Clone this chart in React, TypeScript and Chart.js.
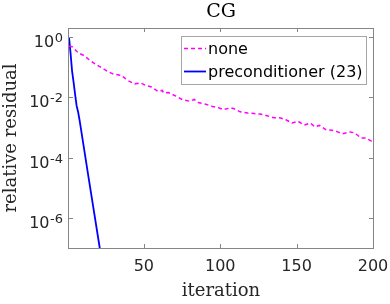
import React, { useEffect, useRef } from 'react';
import { Chart, registerables } from 'chart.js';

Chart.register(...registerables);

const chartTitle = 'CG';
const xLabel = 'iteration';
const yLabel = 'relative residual';
const xTicks = [50, 100, 150, 200];
const yTicks = [1, 1e-2, 1e-4, 1e-6];
const yTickExponents = ['0', '-2', '-4', '-6'];

const noneLabel = 'none';
const noneIter = [1, 3, 7, 11, 14, 18, 22, 26, 30, 35, 40, 44, 48, 51, 55, 59, 62, 63, 66, 71, 75, 80, 83, 86, 90, 95, 99, 102, 107, 109, 113, 118, 122, 126, 130, 135, 139, 143, 147, 151, 155, 159, 162, 165, 169, 173, 176, 180, 185, 188, 192, 195, 199, 200];
const noneResidual = [0.5, 0.48, 0.3, 0.24, 0.18, 0.13, 0.098, 0.074, 0.059, 0.054, 0.035, 0.028, 0.03, 0.025, 0.022, 0.016, 0.017, 0.014, 0.0145, 0.011, 0.0085, 0.0074, 0.0085, 0.0066, 0.006, 0.005, 0.0045, 0.0039, 0.0045, 0.0042, 0.0033, 0.003, 0.0029, 0.0028, 0.0025, 0.0021, 0.0021, 0.0018, 0.0014, 0.0016, 0.0012, 0.0014, 0.00105, 0.00117, 0.00085, 0.00081, 0.00074, 0.00062, 0.00071, 0.00066, 0.00045, 0.00045, 0.00035, 0.00033];

const precLabel = 'preconditioner (23)';
const precIter = [1, 2, 3, 4, 5, 6, 7, 8, 14, 21, 23];
const precResidual = [1, 0.3, 0.076, 0.032, 0.0126, 0.0052, 0.0032, 0.00166, 1.9e-5, 1.1e-7, 2.4e-8];

const xMin = 1;
const xMax = 200;
const yMin = 1e-7;
const yMax = 2;

const decorPlugin = {
  id: 'decor',
  afterDraw(chart: any) {
    const { ctx, scales } = chart;
    const xs = scales.x;
    const ys = scales.y;
    const L = Math.round(xs.getPixelForValue(xMin));
    const R = Math.round(xs.getPixelForValue(xMax));
    const T = Math.round(ys.getPixelForValue(yMax));
    const B = Math.round(ys.getPixelForValue(yMin));
    ctx.save();
    // axes box
    ctx.strokeStyle = '#868686';
    ctx.lineWidth = 1;
    ctx.setLineDash([]);
    ctx.strokeRect(L - 0.5, T + 0.5, R - L + 1, B - T);
    // inward ticks
    ctx.beginPath();
    xTicks.forEach((v) => {
      const px = Math.round(xs.getPixelForValue(v)) + 0.5;
      ctx.moveTo(px, B);
      ctx.lineTo(px, B - 4);
      ctx.moveTo(px, T);
      ctx.lineTo(px, T + 4);
    });
    yTicks.forEach((v) => {
      const py = Math.round(ys.getPixelForValue(v)) + 0.5;
      ctx.moveTo(L, py);
      ctx.lineTo(L + 4, py);
      ctx.moveTo(R, py);
      ctx.lineTo(R - 4, py);
    });
    ctx.stroke();
    // y tick labels with superscripts
    ctx.fillStyle = '#262626';
    ctx.textBaseline = 'alphabetic';
    ctx.textAlign = 'right';
    yTicks.forEach((v, i) => {
      const py = ys.getPixelForValue(v);
      const right = L - 6;
      const exp = yTickExponents[i];
      ctx.font = '13px "DejaVu Sans"';
      const ew = ctx.measureText(exp).width;
      ctx.fillText(exp, right, py + 5);
      ctx.font = '16px "DejaVu Sans"';
      ctx.fillText('10', right - ew - 0.5, py + 10);
    });
    // title
    ctx.fillStyle = '#000000';
    ctx.font = '19px "DejaVu Serif"';
    ctx.textAlign = 'center';
    ctx.fillText(chartTitle, (L + R) / 2, 17);
    // legend
    const bw = 185;
    const bh = 48;
    const bx = R - 7 - bw;
    const by = T + 8;
    ctx.fillStyle = '#ffffff';
    ctx.fillRect(bx, by, bw, bh);
    ctx.strokeStyle = '#a6a6a6';
    ctx.lineWidth = 1;
    ctx.strokeRect(bx + 0.5, by + 0.5, bw, bh);
    chart.data.datasets.forEach((ds: any, i: number) => {
      const ly = by + 12.5 + i * 23;
      ctx.save();
      ctx.strokeStyle = ds.borderColor;
      ctx.lineWidth = ds.borderWidth;
      ctx.setLineDash(ds.borderDash || []);
      ctx.beginPath();
      ctx.moveTo(bx + 3, ly);
      ctx.lineTo(bx + 25, ly);
      ctx.stroke();
      ctx.restore();
      ctx.fillStyle = '#000000';
      ctx.font = '16px "DejaVu Sans"';
      ctx.textAlign = 'left';
      ctx.textBaseline = 'alphabetic';
      ctx.fillText(ds.label, bx + 27, ly + 5.5);
    });
    ctx.restore();
  },
};

export default function App() {
  const ref = useRef<HTMLCanvasElement | null>(null);
  useEffect(() => {
    if (!ref.current) return;
    const chart = new Chart(ref.current, {
      type: 'line',
      data: {
        datasets: [
          {
            label: noneLabel,
            data: noneIter.map((x, i) => ({ x, y: noneResidual[i] })),
            borderColor: '#ff00ff',
            borderWidth: 1.5,
            borderDash: [4, 3],
            pointRadius: 0,
            tension: 0,
            fill: false,
            clip: 0,
          },
          {
            label: precLabel,
            data: precIter.map((x, i) => ({ x, y: precResidual[i] })),
            borderColor: '#0000ff',
            borderWidth: 1.8,
            pointRadius: 0,
            tension: 0,
            fill: false,
            clip: 0,
          },
        ],
      },
      options: {
        responsive: false,
        animation: false,
        layout: { padding: { left: 0, top: 28, right: 17, bottom: 0 } },
        plugins: {
          legend: { display: false },
          title: { display: false },
          tooltip: { enabled: false },
        },
        scales: {
          x: {
            type: 'linear',
            min: xMin,
            max: xMax,
            afterBuildTicks: (s: any) => {
              s.ticks = xTicks.map((v) => ({ value: v }));
            },
            afterFit: (s: any) => {
              s.height = 56;
              s.paddingLeft = 0;
              s.paddingRight = 0;
            },
            grid: { display: false, drawTicks: false },
            border: { display: false },
            ticks: {
              autoSkip: false,
              maxRotation: 0,
              padding: 9,
              color: '#262626',
              font: { family: 'DejaVu Sans', size: 16 },
              callback: (v: any) => String(v),
            },
            title: {
              display: true,
              text: xLabel,
              color: '#262626',
              font: { family: 'DejaVu Serif', size: 18 },
              padding: { top: 0, bottom: 1.5 },
            },
          },
          y: {
            type: 'logarithmic',
            min: yMin,
            max: yMax,
            afterBuildTicks: (s: any) => {
              s.ticks = yTicks.map((v) => ({ value: v }));
            },
            afterFit: (s: any) => {
              s.width = 69;
              s.paddingTop = 0;
              s.paddingBottom = 0;
            },
            grid: { display: false, drawTicks: false },
            border: { display: false },
            ticks: { display: false },
            title: {
              display: true,
              text: yLabel,
              color: '#262626',
              font: { family: 'DejaVu Serif', size: 18 },
              padding: { top: 1, bottom: 0 },
            },
          },
        },
      },
      plugins: [decorPlugin],
    } as any);
    return () => chart.destroy();
  }, []);
  return (
    <div style={{ position: 'absolute', left: 0, top: 0, width: 390, height: 304, background: '#fff' }}>
      <canvas ref={ref} width={390} height={304} style={{ display: 'block' }} />
    </div>
  );
}
